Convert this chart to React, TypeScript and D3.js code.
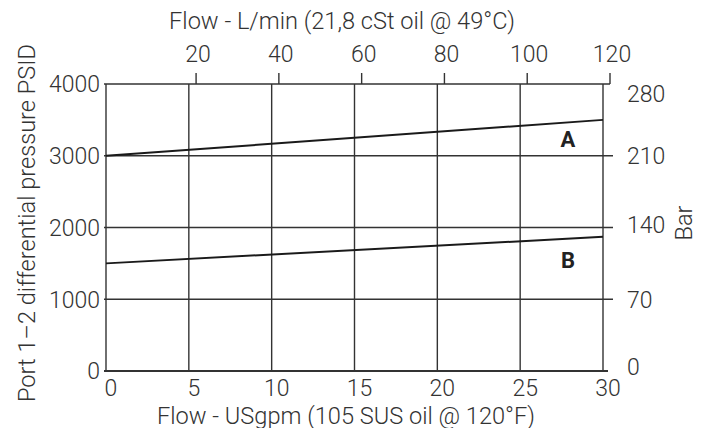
import React from "react";
import * as d3 from "d3";

const flowGpm = [0, 30];
const seriesA = [3000, 3500];
const seriesB = [1500, 1870];
const seriesNames = ["A", "B"];
const gpmTicks = [0, 5, 10, 15, 20, 25, 30];
const lpmTicks = [20, 40, 60, 80, 100, 120];
const psiTicks = [0, 1000, 2000, 3000, 4000];
const barTicks = [0, 70, 140, 210, 280];

const W = 705;
const H = 428;
const L = 106, R = 603, T = 84, B = 371;
const FONT = "Roboto, 'Liberation Sans', sans-serif";
const TXT = "#333";
const FS = 23;
const FT = 23.6;

export default function App() {
  const x = d3.scaleLinear().domain([0, 30]).range([L, R]);
  const xTop = d3.scaleLinear().domain([0, 120]).range([113.3, 610]);
  const y = d3.scaleLinear().domain([0, 4000]).range([B, T]);
  const yBar = d3.scaleLinear().domain([0, 280]).range([B, T]);
  const line = d3
    .line<[number, number]>()
    .x((d) => x(d[0]))
    .y((d) => y(d[1]));
  const series = [seriesA, seriesB];

  return (
    <svg
      width={W}
      height={H}
      style={{ position: "absolute", left: 0, top: 0, background: "#fff" }}
      fontFamily={FONT}
    >
      {/* vertical grid */}
      {gpmTicks.map((t) => (
        <line key={"vg" + t} x1={x(t)} x2={x(t)} y1={T} y2={B} stroke="#333" strokeWidth={1.4} />
      ))}
      {/* horizontal grid + right ticks */}
      {psiTicks.map((t) => (
        <line
          key={"hg" + t}
          x1={L - 2}
          x2={t === 4000 ? 610 : t === 0 ? 608 : 613}
          y1={y(t)}
          y2={y(t)}
          stroke="#333"
          strokeWidth={t === 0 ? 2 : 1.4}
        />
      ))}
      {/* top ticks */}
      {lpmTicks.map((t) => (
        <line key={"tt" + t} x1={xTop(t)} x2={xTop(t)} y1={T - 11} y2={T} stroke="#333" strokeWidth={1.4} />
      ))}
      {/* data lines */}
      {series.map((s, i) => (
        <path
          key={"s" + i}
          d={line(flowGpm.map((f, j) => [f, s[j]] as [number, number])) || ""}
          fill="none"
          stroke="#1a1a1a"
          strokeWidth={2}
        />
      ))}
      {series.map((s, i) => (
        <text
          key={"lab" + i}
          x={568}
          y={y(s[1]) + (i === 0 ? 27 : 31)}
          textAnchor="middle"
          fontSize={22}
          fontWeight={700}
          fill="#222"
        >
          {seriesNames[i]}
        </text>
      ))}
      {/* left tick labels */}
      {psiTicks.map((t) => (
        <text key={"yl" + t} x={100} y={y(t)} dy="0.36em" textAnchor="end" fontSize={FS} fontWeight={300} fill={TXT}>
          {t}
        </text>
      ))}
      {/* right tick labels */}
      {barTicks.map((t) => (
        <text
          key={"yr" + t}
          x={627}
          y={yBar(t) + (t === 280 ? 10 : t === 0 ? -4 : t === 140 ? -3 : 0)}
          dy="0.36em"
          textAnchor="start"
          fontSize={FS}
          fontWeight={300}
          fill={TXT}
        >
          {t}
        </text>
      ))}
      {/* bottom tick labels */}
      {gpmTicks.map((t) => (
        <text key={"xb" + t} x={x(t) + 5} y={395.5} textAnchor="middle" fontSize={FS} fontWeight={300} fill={TXT}>
          {t}
        </text>
      ))}
      {/* top tick labels */}
      {lpmTicks.map((t) => (
        <text key={"xt" + t} x={xTop(t) + 2} y={62} textAnchor="middle" fontSize={FS} fontWeight={300} fill={TXT}>
          {t}
        </text>
      ))}
      {/* titles */}
      <text x={342} y={29} textAnchor="middle" fontSize={FT} fontWeight={300} fill={TXT}>
        Flow - L/min (21,8 cSt oil @ 49°C)
      </text>
      <text x={346} y={423.5} textAnchor="middle" fontSize={FT} fontWeight={300} fill={TXT}>
        Flow - USgpm (105 SUS oil @ 120°F)
      </text>
      <text
        transform="translate(35,223) rotate(-90)"
        textAnchor="middle"
        fontSize={FT}
        fontWeight={300}
        fill={TXT}
      >
        Port 1–2 differential pressure PSID
      </text>
      <text
        transform="translate(692,223) rotate(-90)"
        textAnchor="middle"
        fontSize={FT}
        fontWeight={300}
        fill={TXT}
      >
        Bar
      </text>
    </svg>
  );
}
